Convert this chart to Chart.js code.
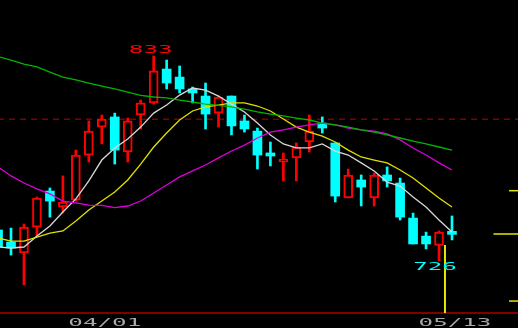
<!DOCTYPE html>
<html>
<head>
<meta charset="utf-8">
<script src="https://cdn.jsdelivr.net/npm/chart.js@4.4.1/dist/chart.umd.min.js"></script>
<style>
  html, body { margin: 0; padding: 0; background: #000; overflow: hidden; }
</style>
</head>
<body>
<canvas id="myChart" width="518" height="328"></canvas>
<script>
// trading days (2014), first one only partly visible at the left edge
const dates = ['03/19', '03/20', '03/24', '03/25', '03/26', '03/27', '03/28', '03/31',
  '04/01', '04/02', '04/03', '04/04', '04/07', '04/08', '04/09', '04/10', '04/11',
  '04/14', '04/15', '04/16', '04/17', '04/18', '04/21', '04/22', '04/23', '04/24', '04/25',
  '04/28', '04/30', '05/01', '05/02', '05/07', '05/08', '05/09', '05/12', '05/13'];

const opens  = [742.2, 735.9, 730.2, 743.7, 762.5, 754.2, 757.8, 781.3, 795.9, 801.2, 782.9, 802.2,
  808.5, 826.2, 822.0, 815.8, 812.1, 803.2, 812.1, 799.1, 793.8, 782.4, 777.7, 779.8, 788.1, 798.0,
  787.6, 758.9, 768.3, 758.9, 770.9, 766.7, 748.4, 739.0, 734.1, 741.5];
const highs  = [743.2, 743.2, 745.3, 759.4, 764.1, 770.4, 783.9, 799.1, 802.2, 803.2, 800.6, 810.0,
  833.0, 830.9, 827.8, 816.8, 818.9, 812.1, 812.1, 802.2, 795.4, 788.1, 782.4, 787.6, 802.2, 801.2,
  787.6, 774.0, 770.9, 771.9, 775.1, 769.3, 751.0, 741.1, 741.7, 749.5];
const lows   = [730.7, 729.1, 713.5, 739.0, 748.9, 751.0, 757.3, 777.7, 787.1, 776.6, 777.7, 794.9,
  807.9, 815.8, 813.7, 808.5, 794.9, 795.9, 791.8, 793.3, 774.0, 775.6, 767.8, 767.8, 782.9, 792.8,
  756.8, 758.9, 754.7, 754.7, 764.6, 747.4, 734.9, 732.3, 726.0, 737.0];
const closes = [733.3, 732.8, 743.7, 758.9, 757.3, 756.8, 781.3, 793.8, 800.1, 783.9, 799.1, 808.5,
  825.2, 818.9, 815.8, 813.7, 802.7, 811.6, 796.5, 794.9, 781.3, 780.8, 779.2, 785.5, 793.8, 795.4,
  759.9, 770.9, 764.6, 770.9, 767.8, 748.9, 734.9, 734.9, 741.1, 739.9];

// moving averages
const maWhite = [733.3, 732.8, 733.3, 739.0, 744.3, 751.6, 758.4, 767.8, 778.7, 785.0, 789.7, 795.9,
  803.2, 807.4, 812.6, 816.3, 815.2, 812.1, 807.9, 803.8, 798.0, 791.8, 787.1, 785.0, 785.0, 787.1,
  783.4, 781.3, 777.2, 773.0, 767.2, 765.1, 759.4, 754.2, 747.4, 741.1];
const maYellow = [738.0, 736.4, 736.4, 738.5, 740.6, 741.7, 746.9, 752.6, 757.3, 762.0, 768.3, 776.6,
  785.5, 792.8, 799.6, 804.3, 806.4, 807.4, 808.5, 808.5, 806.9, 804.3, 800.1, 795.9, 793.3, 791.2,
  788.1, 783.9, 780.3, 778.7, 777.2, 773.5, 769.3, 764.1, 758.9, 754.2];
const maMagenta = [775.1, 770.4, 766.7, 763.6, 761.0, 757.3, 756.3, 755.2, 755.0, 753.9, 754.7, 757.3,
  761.5, 765.7, 769.9, 773.0, 776.1, 779.8, 783.4, 786.5, 790.2, 793.3, 794.4, 795.9, 797.0, 798.0,
  797.0, 795.4, 794.4, 793.8, 792.3, 789.2, 785.0, 781.3, 777.2, 773.5];
const maGreen = [832.7, 830.9, 828.8, 827.3, 824.6, 822.0, 820.5, 818.9, 817.3, 815.8, 814.2, 812.4,
  811.6, 811.1, 810.0, 809.0, 807.9, 807.2, 806.4, 805.3, 803.8, 802.7, 801.7, 800.6, 799.6, 798.0,
  797.0, 795.9, 794.4, 793.3, 791.8, 790.2, 788.6, 787.1, 785.5, 783.9];

const tickDates = ['04/01', '05/13'];
const refLevel = 800;
const sideLevels = [762.7, 740.1, 705.1];

const UP = '#ff0000';
const DOWN = '#00ffff';
const X_MIN = 0.152, X_MAX = 40.09;
const Y_MIN = 698.86, Y_MAX = 862.23;

const isUp = (i) => closes[i] >= opens[i];

const wickData = dates.map((d, i) => ({ x: i, y: [lows[i], highs[i]] }));
const bodyData = dates.map((d, i) => ({ x: i, y: [opens[i], closes[i]] }));
const toLine = (arr) => arr.map((v, i) => ({ x: i, y: v }));

function lineSet(data, color, extra) {
  return Object.assign({
    type: 'line',
    data: data,
    borderColor: color,
    borderWidth: 1.3,
    pointRadius: 0,
    tension: 0,
    order: 1
  }, extra || {});
}

const sideMarks = [
  lineSet([{ x: 39.4, y: sideLevels[0] }, { x: 40.3, y: sideLevels[0] }], '#e6e600', { borderWidth: 1.5, order: 0 }),
  lineSet([{ x: 38.2, y: sideLevels[1] }, { x: 40.3, y: sideLevels[1] }], '#e6e600', { borderWidth: 1.5, order: 0 }),
  lineSet([{ x: 39.4, y: sideLevels[2] }, { x: 40.3, y: sideLevels[2] }], '#e6e600', { borderWidth: 1.5, order: 0 }),
  lineSet([{ x: 34.46, y: 734.4 }, { x: 34.46, y: Y_MIN }], '#e6e600', { borderWidth: 2, order: 0 })
];

// the terminal font is twice as wide as it is tall
function wideText(ctx, text, cx, baseY, color) {
  ctx.save();
  ctx.font = '11px "DejaVu Sans Mono"';
  ctx.textAlign = 'center';
  ctx.textBaseline = 'alphabetic';
  ctx.fillStyle = color;
  ctx.translate(cx, baseY);
  ctx.scale(2.2, 1);
  ctx.fillText(text, 0, 0);
  ctx.restore();
}

const textLayer = {
  id: 'textLayer',
  afterDraw(chart) {
    const { ctx, chartArea, scales: { x, y } } = chart;
    // date ticks of the x axis
    x.ticks.forEach((t) => {
      wideText(ctx, dates[t.value], x.getPixelForValue(t.value) + 3, chartArea.bottom + 13, '#a8a8a8');
    });
    // high / low of the shown period
    const from = dates.indexOf(tickDates[0]);
    const hi = Math.max(...highs.slice(from));
    const lo = Math.min(...lows.slice(from));
    const hiIdx = highs.indexOf(hi);
    const loIdx = lows.indexOf(lo);
    wideText(ctx, String(Math.round(hi)), x.getPixelForValue(hiIdx) - 3, y.getPixelForValue(hi) - 3, UP);
    wideText(ctx, String(Math.round(lo)), x.getPixelForValue(loIdx) - 4, y.getPixelForValue(lo) + 9, DOWN);
  }
};

new Chart(document.getElementById('myChart'), {
  type: 'bar',
  data: {
    datasets: [
      {
        data: wickData,
        backgroundColor: (c) => isUp(c.dataIndex) ? UP : DOWN,
        barThickness: 2,
        grouped: false,
        order: 3
      },
      {
        data: bodyData,
        backgroundColor: (c) => isUp(c.dataIndex) ? '#000000' : DOWN,
        borderColor: (c) => isUp(c.dataIndex) ? UP : DOWN,
        borderWidth: (c) => isUp(c.dataIndex) ? 2 : 0,
        borderSkipped: false,
        barThickness: 9,
        grouped: false,
        order: 2
      },
      lineSet([{ x: X_MIN - 1, y: refLevel }, { x: X_MAX + 1, y: refLevel }], '#800000',
        { borderDash: [6, 5], borderWidth: 1.6, order: 4 }),
      lineSet(toLine(maGreen), '#00b400'),
      lineSet(toLine(maMagenta), '#dc00dc'),
      lineSet(toLine(maYellow), '#e0e000'),
      lineSet(toLine(maWhite), '#d8d8d8'),
      ...sideMarks
    ]
  },
  options: {
    responsive: false,
    animation: false,
    layout: { padding: 0 },
    plugins: {
      legend: { display: false },
      tooltip: { enabled: false }
    },
    scales: {
      x: {
        type: 'linear',
        min: X_MIN,
        max: X_MAX,
        offset: false,
        grid: { display: false, drawTicks: false },
        border: { display: true, color: '#800000', width: 2 },
        ticks: { display: false },
        afterBuildTicks: (s) => {
          s.ticks = tickDates.map((t) => ({ value: dates.indexOf(t) }));
        },
        afterFit: (s) => { s.height = 15; }
      },
      y: {
        type: 'linear',
        display: false,
        min: Y_MIN,
        max: Y_MAX
      }
    }
  },
  plugins: [textLayer]
});
</script>
</body>
</html>
